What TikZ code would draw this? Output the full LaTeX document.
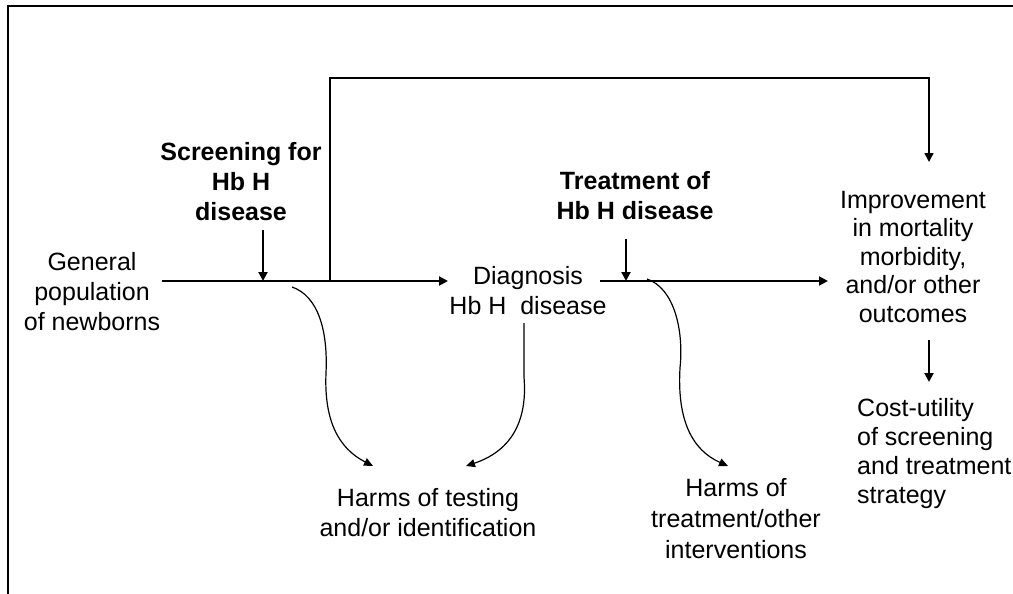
\documentclass[tikz,border=0pt]{standalone}
\usepackage{fontspec}
\setmainfont{Liberation Sans}
\usetikzlibrary{arrows.meta}
\begin{document}
\begin{tikzpicture}[x=1pt,y=-1pt,
	lbl/.style={font=\fontsize{25}{30}\selectfont, align=center, inner sep=0pt},
	blbl/.style={lbl, font=\fontsize{25}{30}\selectfont\bfseries},
	flow/.style={line width=2pt, -{Triangle[length=9pt,width=9pt]}},
	harm/.style={line width=1.2pt, -{Triangle[length=9pt,width=8pt]}}]
		\useasboundingbox (0,0) rectangle (1013,594);
		\draw[line width=2pt] (8,594) -- (8,6) -- (1013,6);
		
		\node[lbl] (general) at (92,292) {General\\population\\of newborns};
		\node[blbl] (screen) at (241,182) {Screening for\\Hb H\\disease};
		\node[lbl] (diag) at (528,291) {Diagnosis\\Hb H\ \ disease};
		\node[blbl] (treat) at (635,196) {Treatment of\\Hb H disease};
		\node[lbl, font=\fontsize{25}{28.5}\selectfont] (improve) at (913,257) {Improvement\\in mortality\\morbidity,\\and/or other\\outcomes};
		\node[lbl, align=left, anchor=west, font=\fontsize{25}{29}\selectfont] (cost) at (857,454) {Cost-utility\\of screening\\and treatment\\strategy};
		\node[lbl] (harmtest) at (428,513) {Harms of testing\\and/or identification};
		\node[lbl, font=\fontsize{25}{31}\selectfont] (harmtreat) at (736,519) {Harms of\\treatment/other\\interventions};
		
		\coordinate (a0) at (162,281);
		\coordinate (a1) at (448,281);
		\coordinate (b0) at (600,281);
		\coordinate (b1) at (828,281);
		\coordinate (loop) at (330,281);
		\coordinate (out) at (929,162);
		\coordinate (s0) at (263,230);
		\coordinate (s1) at (263,281);
		\coordinate (t0) at (626,239);
		\coordinate (t1) at (626,281);
		\coordinate (o0) at (929,340);
		\coordinate (o1) at (929,382);
		\coordinate (d0) at (524,323);
		\coordinate (c1) at (292,287);
		\coordinate (c3) at (647,279);
		\coordinate (h1) at (373,466);
		\coordinate (h2) at (466,466);
		\coordinate (h3) at (728,466);
		
		% main line
		\draw[flow] (a0) -- (a1);
		\draw[flow] (b0) -- (b1);
		\draw[flow] (s0) -- (s1);
		\draw[flow] (t0) -- (t1);
		\draw[flow] (o0) -- (o1);
		\draw[line width=1.5pt, -{Triangle[length=9pt,width=9pt]}] (loop) -- (330,78) -| (out);
		
		% harms
		\draw[harm] (c1) .. controls (318,296) and (328,330) .. (326,373) .. controls (324,420) and (338,448) .. (h1);
		\draw[harm] (d0) -- (524,377) .. controls (528,425) and (508,452) .. (h2);
		\draw[harm] (c3) .. controls (674,288) and (684,330) .. (680,368) .. controls (677,420) and (692,450) .. (h3);
\end{tikzpicture}
\end{document}
